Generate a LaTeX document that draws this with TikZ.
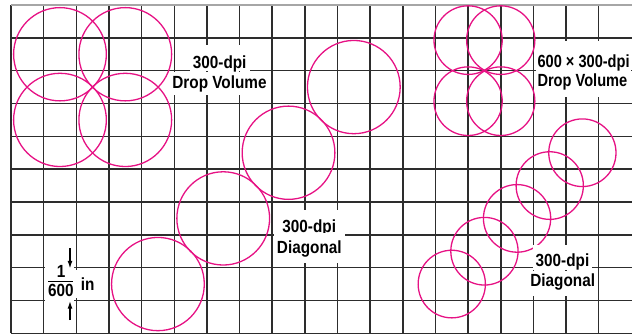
\documentclass[tikz,border=0pt]{standalone}
\usepackage{fontspec}
\usetikzlibrary{arrows.meta}
\newfontfamily\lblfont{Liberation Sans}[FakeStretch=0.87]
\newfontfamily\lblfontnarrow{Liberation Sans}[FakeStretch=0.83]
\definecolor{dotpink}{RGB}{230,18,132}
\definecolor{gridgray}{RGB}{45,45,45}
\tikzset{
  gridline/.style={draw=gridgray, line width=1.5pt},
  dropdot/.style={draw=dotpink, line width=1.3pt},
  lbl/.style={fill=white, inner xsep=3pt, inner ysep=0pt, anchor=base,
    font=\lblfont\bfseries\fontsize{17.6}{20}\selectfont},
  lblnarrow/.style={lbl, anchor=base west, inner xsep=1.5pt,
    font=\lblfontnarrow\bfseries\fontsize{17.6}{20}\selectfont},
  fractext/.style={inner sep=0pt, anchor=base,
    font=\lblfont\bfseries\fontsize{17.6}{20}\selectfont},
  dimarrow/.style={draw=black, line width=1.1pt, -{Latex[length=7.5pt,width=5pt]}}
}
\begin{document}
\begin{tikzpicture}[x=1pt,y=-1pt]
\useasboundingbox (0,0) rectangle (632,335);
\clip (0,0) rectangle (632,335);

% 600-dpi grid and the printed dots, in grid-cell units
\begin{scope}[shift={(11,5)}, x=32.65pt, y=-32.83pt]
  \foreach \i in {0,...,18} \draw[gridline] (\i,0) -- (\i,10);
  \draw[gridline, draw=gray!70] (0,0) -- (19.1,0);
  \foreach \j in {1,...,10} \draw[gridline] (0,\j) -- (19.1,\j);

  % 300-dpi drop volume
  \foreach \cx/\cy in {1.5/1.5, 3.5/1.5, 1.5/3.5, 3.5/3.5}
    \draw[dropdot] (\cx,\cy) circle[radius=1.42];

  % 300-dpi diagonal
  \foreach \cx/\cy in {4.5/8.5, 6.5/6.5, 8.5/4.5, 10.5/2.5}
    \draw[dropdot] (\cx,\cy) circle[radius=1.42];

  % 600 x 300-dpi drop volume
  \foreach \cx/\cy in {14/1.07, 15/1.07, 14/2.93, 15/2.93}
    \draw[dropdot] (\cx,\cy) circle[radius=1.045];

  % small-dot diagonal
  \foreach \cx/\cy in {13.5/8.5, 14.5/7.5, 15.5/6.5, 16.5/5.5, 17.5/4.5}
    \draw[dropdot] (\cx,\cy) circle[radius=1.03];
\end{scope}

% labels, each line on its own white patch
\node[lbl, text height=23.3pt, text depth=3pt] (a1) at (219.7,68.3) {300-dpi};
\node[lbl, text height=16.5pt, text depth=6.7pt] (a2) at (219.5,88.3) {Drop Volume};

\node[lblnarrow, text height=26pt, text depth=4pt] (b1) at (535.8,67.3) {600 × 300-dpi};
\node[lblnarrow, text height=15.5pt, text depth=10.3pt] (b2) at (535.8,86.7) {Drop Volume};

\node[lbl, text height=22.7pt, text depth=1.5pt] (c1) at (309.2,232.7) {300-dpi};
\node[lbl, text height=20pt, text depth=10pt] (c2) at (309.3,253.3) {Diagonal};

\node[lbl, text height=21.7pt, text depth=3.5pt] (d1) at (562.5,266.7) {300-dpi};
\node[lbl, text height=16pt, text depth=9.5pt] (d2) at (562.7,286.7) {Diagonal};

% grid pitch: 1/600 in
\node[fill=white, inner sep=0pt, minimum width=29.6pt, minimum height=36.5pt] (fracbox) at (59.5,284.2) {};
\node[fractext] (numer) at (61.2,277.3) {1};
\node[fractext] (denom) at (60.8,296.7) {600};
\draw[line width=1.5pt] (48.3,281.7) -- (73.3,281.7);
\node[lbl, anchor=base west, inner xsep=5.5pt, text height=20pt, text depth=8pt] (unit) at (75.2,290) {in};

\coordinate (downstart) at (70,248);
\coordinate (downtip) at (70,268.3);
\coordinate (upstart) at (70,320);
\coordinate (uptip) at (70,301.2);
\draw[dimarrow] (downstart) -- (downtip);
\draw[dimarrow] (upstart) -- (uptip);
\end{tikzpicture}
\end{document}
